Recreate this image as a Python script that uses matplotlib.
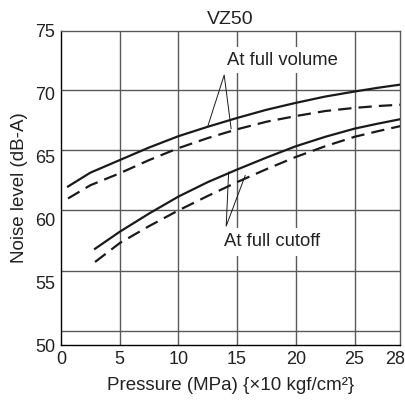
import matplotlib
matplotlib.use("Agg")
import matplotlib.pyplot as plt
from matplotlib.transforms import ScaledTranslation

plt.rcParams['font.family'] = ['Liberation Sans', 'DejaVu Sans']

# data (pressure in MPa, noise level in dB-A)
vol_x = [0.6, 2.5, 5, 7.5, 10, 12.5, 15, 17.5, 20, 22.5, 25, 27, 28.9]
vol_solid = [62.6, 63.7, 64.7, 65.7, 66.6, 67.35, 68.05, 68.7, 69.25, 69.75, 70.15, 70.45, 70.7]
vol_dashed = [61.65, 62.7, 63.65, 64.7, 65.65, 66.45, 67.15, 67.75, 68.2, 68.6, 68.85, 69.0, 69.1]

cut_x = [2.9, 5, 7.5, 10, 12.5, 15, 17.5, 20, 22.5, 25, 27, 28.9]
cut_solid = [57.65, 59.0, 60.45, 61.8, 62.95, 63.95, 64.9, 65.8, 66.55, 67.2, 67.6, 67.95]
cut_dashed = [56.6, 58.1, 59.45, 60.7, 61.85, 62.95, 63.98, 64.95, 65.8, 66.55, 67.0, 67.4]

x_ticks = [0, 5, 10, 15, 20, 25, 28.9]
x_labels = ['0', '5', '10', '15', '20', '25', '28']
y_ticks = [50, 55, 60, 65, 70, 75]
y_labels = ['50', '55', '60', '65', '70', '75']

# the scanned chart's horizontal rules do not sit on the tick labels
grid_y = [51.1, 55.9, 60.7, 65.5, 70.3]

fig = plt.figure(figsize=(4.06, 4.07), dpi=100)
ax = fig.add_axes([0.1502, 0.1523, 0.8358, 0.7727])

ax.set_xlim(0, 28.9)
ax.set_ylim(50, 75)

ax.set_xticks(x_ticks)
ax.set_xticklabels(x_labels)
ax.set_yticks(y_ticks)
ax.set_yticklabels(y_labels)
ax.set_yticks(grid_y, minor=True)
ax.tick_params(axis='both', which='both', length=0, labelsize=13, pad=4, colors='#222222')

# pull the last x label inside the figure like the original
last = ax.get_xticklabels()[-1]
last.set_transform(last.get_transform() + ScaledTranslation(-5 / 100, 0, fig.dpi_scale_trans))

gc = '#5a5a5a'
for xv in x_ticks[1:-1]:
    ax.axvline(xv, color=gc, lw=1.0, zorder=1)
ax.grid(which='minor', axis='y', color=gc, lw=1.0, zorder=1)

for side in ['top', 'right']:
    ax.spines[side].set_color(gc)
for side in ['left', 'bottom']:
    ax.spines[side].set_color('black')
for s in ax.spines.values():
    s.set_linewidth(1.0)

lc = '#1a1a1a'
dash = (0, (6, 3.2))
ax.plot(vol_x, vol_solid, color=lc, lw=1.6, zorder=3)
ax.plot(vol_x, vol_dashed, color=lc, lw=1.6, linestyle=dash, zorder=3)
ax.plot(cut_x, cut_solid, color=lc, lw=1.6, zorder=3)
ax.plot(cut_x, cut_dashed, color=lc, lw=1.6, linestyle=dash, zorder=3)

# callouts
ax.text(18.88, 72.65, 'At full volume', fontsize=13.3, ha='center', va='center',
        color='#222222', zorder=4,
        bbox=dict(facecolor='white', edgecolor='none', pad=3))
ax.plot([12.51, 13.9, 14.49], [67.41, 71.46, 67.2], color=lc, lw=0.7, zorder=5)

ax.text(17.99, 58.2, 'At full cutoff', fontsize=13.3, ha='center', va='center',
        color='#222222', zorder=4,
        bbox=dict(facecolor='white', edgecolor='none', pad=4))
ax.plot([14.28, 14.07, 15.69], [63.75, 59.46, 63.47], color=lc, lw=0.7, zorder=5)

ax.set_title('VZ50', fontsize=14, color='#222222', pad=5)
ax.set_ylabel('Noise level (dB-A)', fontsize=13.5, color='#222222', labelpad=5)
ax.set_xlabel('Pressure (MPa) {\u00d710 kgf/cm\u00b2}', fontsize=13.5, color='#222222', labelpad=7)

fig.savefig('out.png', dpi=100)
